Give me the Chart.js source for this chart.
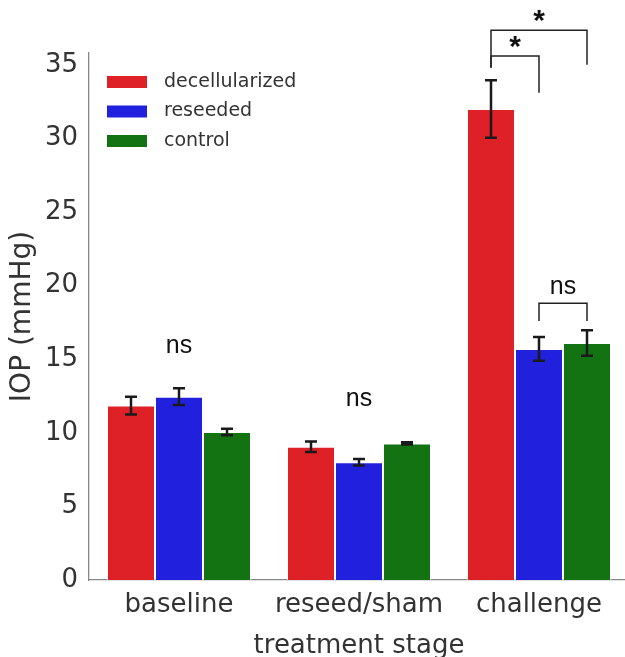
<!DOCTYPE html>
<html>
<head>
<meta charset="utf-8">
<script src="https://cdn.jsdelivr.net/npm/chart.js@4"></script>
<style>
html, body { margin: 0; padding: 0; background: #fff; overflow: hidden; }
</style>
</head>
<body>
<canvas id="iopChart" width="629" height="657"></canvas>
<script>
const stages = ["baseline", "reseed/sham", "challenge"];
const groupNames = ["decellularized", "reseeded", "control"];
const decellMean = [11.85, 9.05, 32.0];
const decellErr = [0.6, 0.36, 1.95];
const reseedMean = [12.45, 8.0, 15.7];
const reseedErr = [0.57, 0.22, 0.8];
const controlMean = [10.05, 9.28, 16.1];
const controlErr = [0.22, 0.08, 0.87];
const yTicks = [0, 5, 10, 15, 20, 25, 30, 35];

const colors = ["#de2126", "#2121dd", "#137313"];
const errors = [decellErr, reseedErr, controlErr];

// significance marks, in data units
const brackets = [
    { from: [2, 0], to: [2, 2], top: 37.35, left: 34.8, right: 35.0 },
    { from: [2, 0], to: [2, 1], top: 35.6, left: 34.8, right: 33.1 },
    { from: [2, 1], to: [2, 2], top: 18.8, left: 17.6, right: 17.6 }
];
const marks = [
    { text: "*", at: [2, 0, 2, 2], y: 38.2, bold: true },
    { text: "*", at: [2, 0, 2, 1], y: 36.4, bold: true },
    { text: "ns", at: [2, 1, 2, 2], y: 19.9 },
    { text: "ns", at: [0, 1, 0, 1], y: 15.9 },
    { text: "ns", at: [1, 1, 1, 1], y: 12.3 }
];

const extras = {
    id: "extras",
    afterDraw(chart) {
        const ctx = chart.ctx;
        const y = chart.scales.y;
        const barX = (cat, ds) => chart.getDatasetMeta(ds).data[cat].x;

        // error bars
        ctx.save();
        ctx.strokeStyle = "#1a1a1a";
        ctx.lineWidth = 2.5;
        chart.data.datasets.forEach((ds, i) => {
            ds.data.forEach((v, j) => {
                const x = barX(j, i);
                const top = y.getPixelForValue(v + errors[i][j]);
                const bot = y.getPixelForValue(v - errors[i][j]);
                ctx.beginPath();
                ctx.moveTo(x, top); ctx.lineTo(x, bot);
                ctx.moveTo(x - 6, top); ctx.lineTo(x + 6, top);
                ctx.moveTo(x - 6, bot); ctx.lineTo(x + 6, bot);
                ctx.stroke();
            });
        });

        // brackets
        ctx.lineWidth = 1.5;
        ctx.strokeStyle = "#222";
        brackets.forEach(b => {
            const x1 = barX(b.from[0], b.from[1]);
            const x2 = barX(b.to[0], b.to[1]);
            ctx.beginPath();
            ctx.moveTo(x1, y.getPixelForValue(b.left));
            ctx.lineTo(x1, y.getPixelForValue(b.top));
            ctx.lineTo(x2, y.getPixelForValue(b.top));
            ctx.lineTo(x2, y.getPixelForValue(b.right));
            ctx.stroke();
        });

        // labels
        ctx.fillStyle = "#111";
        ctx.textAlign = "center";
        ctx.textBaseline = "middle";
        marks.forEach(m => {
            const x = (barX(m.at[0], m.at[1]) + barX(m.at[2], m.at[3])) / 2;
            ctx.font = m.bold ? "bold 30px 'Liberation Sans'" : "25px 'Liberation Sans'";
            ctx.fillText(m.text, x, y.getPixelForValue(m.y) + (m.bold ? 4 : 0));
        });

        // legend
        const area = chart.chartArea;
        ctx.font = "19px 'DejaVu Sans'";
        ctx.textAlign = "left";
        groupNames.forEach((name, i) => {
            const cy = area.top + 29 + i * 29.5;
            ctx.fillStyle = colors[i];
            ctx.fillRect(area.left + 18, cy - 6, 40, 12);
            ctx.fillStyle = "#333";
            ctx.fillText(name, area.left + 75, cy);
        });
        ctx.restore();
    }
};

new Chart(document.getElementById("iopChart"), {
    type: "bar",
    data: {
        labels: stages,
        datasets: [decellMean, reseedMean, controlMean].map((d, i) => ({
            label: groupNames[i],
            data: d,
            backgroundColor: colors[i],
            borderColor: "rgba(255,255,255,0.6)",
            borderWidth: 1,
            categoryPercentage: 0.8,
            barPercentage: 1.0
        }))
    },
    options: {
        responsive: false,
        animation: false,
        layout: { padding: { top: 53, right: 0, left: 0, bottom: 0 } },
        plugins: { legend: { display: false }, tooltip: { enabled: false } },
        scales: {
            x: {
                grid: { display: false },
                border: { display: true, color: "#888", width: 1.3 },
                ticks: { color: "#333", font: { family: "DejaVu Sans", size: 26 }, padding: 2 },
                title: {
                    display: true, text: "treatment stage", color: "#333",
                    font: { family: "DejaVu Sans", size: 26 }, padding: { top: 0, bottom: -5 }
                },
                afterFit(scale) { scale.height = 77; }
            },
            y: {
                min: 0,
                max: 35.8,
                grid: { display: false },
                border: { display: true, color: "#888", width: 1.3 },
                ticks: { color: "#333", font: { family: "DejaVu Sans", size: 26 }, padding: 3 },
                afterBuildTicks(scale) { scale.ticks = yTicks.map(v => ({ value: v })); },
                title: {
                    display: true, text: "IOP (mmHg)", color: "#333",
                    font: { family: "DejaVu Sans", size: 28 }, padding: { top: 6, bottom: 0 }
                },
                afterFit(scale) { scale.width = 89; }
            }
        }
    },
    plugins: [extras]
});
</script>
</body>
</html>
